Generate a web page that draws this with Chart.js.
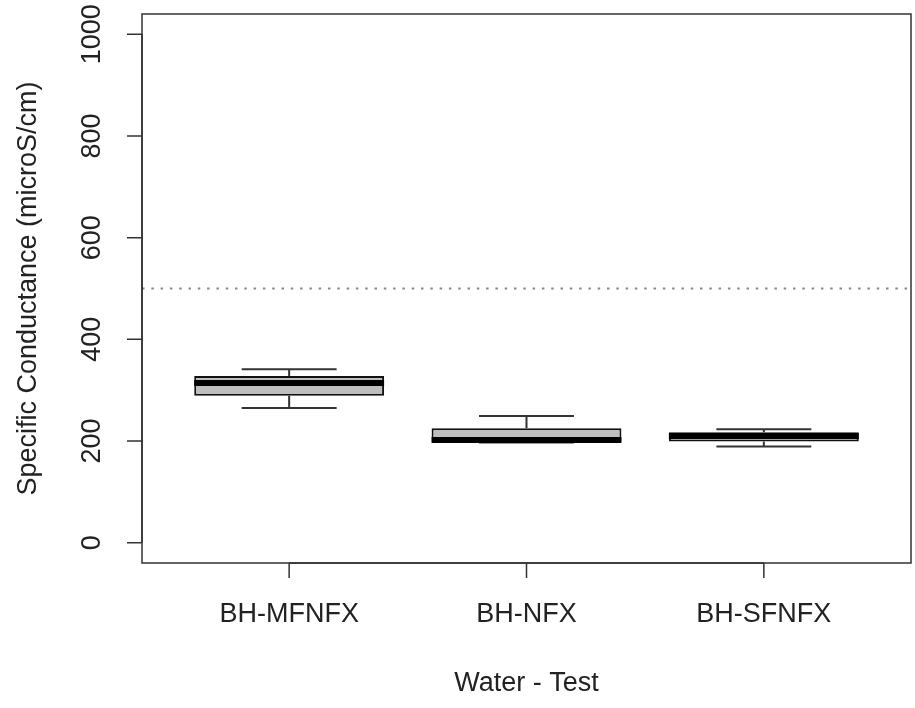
<!DOCTYPE html>
<html>
<head>
<meta charset="utf-8">
<script src="https://cdn.jsdelivr.net/npm/chart.js@4.4.1/dist/chart.umd.min.js"></script>
<style>
  html, body { margin: 0; padding: 0; background: #fff; }
  #wrap { width: 915px; height: 708px; }
</style>
</head>
<body>
<div id="wrap"><canvas id="boxdiv" width="915" height="708"></canvas></div>
<script>
// box plot values
const categories = ['BH-MFNFX', 'BH-NFX', 'BH-SFNFX'];
const whiskerLow = [265, 197, 189];
const q1 = [289, 199, 199];
const medians = [314, 202, 210];
const q3 = [328, 225, 217];
const whiskerHigh = [341, 249, 223];
const yTicks = [0, 200, 400, 600, 800, 1000];
const referenceLevel = 500;

const yTitle = 'Specific Conductance (microS/cm)';
const xTitle = 'Water - Test';
const FONT = '27px "Liberation Sans", Arial, sans-serif';

// whiskers, medians, axes and frame drawn R style on top of the floating bars
const boxPlotExtras = {
  id: 'boxPlotExtras',
  afterDatasetsDraw(chart) {
    const ctx = chart.ctx;
    const y = chart.scales.y;
    const meta = chart.getDatasetMeta(0);
    ctx.save();
    meta.data.forEach(function (bar, i) {
      const cx = bar.x;
      const half = bar.width / 2;
      const capHalf = bar.width / 4;
      // whiskers
      ctx.strokeStyle = '#333';
      ctx.lineWidth = 2;
      ctx.beginPath();
      ctx.moveTo(cx, y.getPixelForValue(q3[i]));
      ctx.lineTo(cx, y.getPixelForValue(whiskerHigh[i]));
      ctx.moveTo(cx - capHalf, y.getPixelForValue(whiskerHigh[i]));
      ctx.lineTo(cx + capHalf, y.getPixelForValue(whiskerHigh[i]));
      ctx.moveTo(cx, y.getPixelForValue(q1[i]));
      ctx.lineTo(cx, y.getPixelForValue(whiskerLow[i]));
      ctx.moveTo(cx - capHalf, y.getPixelForValue(whiskerLow[i]));
      ctx.lineTo(cx + capHalf, y.getPixelForValue(whiskerLow[i]));
      ctx.stroke();
      // median
      ctx.strokeStyle = '#000';
      ctx.lineWidth = 6;
      ctx.beginPath();
      ctx.moveTo(cx - half, y.getPixelForValue(medians[i]));
      ctx.lineTo(cx + half, y.getPixelForValue(medians[i]));
      ctx.stroke();
    });
    ctx.restore();
  },
  afterDraw(chart) {
    const ctx = chart.ctx;
    const area = chart.chartArea;
    const x = chart.scales.x;
    const y = chart.scales.y;
    ctx.save();

    // dotted reference line
    ctx.strokeStyle = '#888';
    ctx.lineWidth = 2;
    ctx.setLineDash([2.5, 6.8]);
    ctx.beginPath();
    const ry = y.getPixelForValue(referenceLevel);
    ctx.moveTo(area.left, ry);
    ctx.lineTo(area.right, ry);
    ctx.stroke();
    ctx.setLineDash([]);

    // frame
    ctx.strokeStyle = '#333';
    ctx.lineWidth = 1.5;
    ctx.strokeRect(area.left, area.top, area.right - area.left, area.bottom - area.top);

    // y axis ticks + rotated labels
    ctx.lineWidth = 1.5;
    ctx.beginPath();
    ctx.moveTo(area.left, y.getPixelForValue(yTicks[0]));
    ctx.lineTo(area.left, y.getPixelForValue(yTicks[yTicks.length - 1]));
    yTicks.forEach(function (t) {
      const py = y.getPixelForValue(t);
      ctx.moveTo(area.left - 15, py);
      ctx.lineTo(area.left, py);
    });
    ctx.stroke();

    ctx.fillStyle = '#222';
    ctx.font = FONT;
    ctx.textAlign = 'center';
    ctx.textBaseline = 'middle';
    yTicks.forEach(function (t) {
      ctx.save();
      ctx.translate(area.left - 49, y.getPixelForValue(t));
      ctx.rotate(-Math.PI / 2);
      ctx.fillText(String(t), 0, 0);
      ctx.restore();
    });

    // x axis line from first to last category, ticks and labels
    const first = x.getPixelForValue(1);
    const last = x.getPixelForValue(categories.length);
    ctx.beginPath();
    ctx.moveTo(first, area.bottom);
    ctx.lineTo(last, area.bottom);
    categories.forEach(function (c, i) {
      const px = x.getPixelForValue(i + 1);
      ctx.moveTo(px, area.bottom);
      ctx.lineTo(px, area.bottom + 15);
    });
    ctx.stroke();

    categories.forEach(function (c, i) {
      ctx.fillText(c, x.getPixelForValue(i + 1), area.bottom + 52);
    });

    // axis titles
    ctx.fillText(xTitle, (area.left + area.right) / 2, area.bottom + 121);
    ctx.save();
    ctx.translate(29, (area.top + area.bottom) / 2);
    ctx.rotate(-Math.PI / 2);
    ctx.fillText(yTitle, 0, 0);
    ctx.restore();

    ctx.restore();
  }
};

var ctx = document.getElementById('boxdiv');
var boxChart = new Chart(ctx, {
  type: 'bar',
  plugins: [boxPlotExtras],
  data: {
    datasets: [{
      label: 'IQR',
      data: categories.map(function (c, i) { return { x: i + 1, y: [q1[i], q3[i]] }; }),
      backgroundColor: '#bebebe',
      borderColor: '#111',
      borderWidth: 2,
      borderSkipped: false,
      barPercentage: 0.8,
      categoryPercentage: 1.0
    }]
  },
  options: {
    responsive: false,
    animation: false,
    layout: { padding: { left: 142, top: 14, right: 4, bottom: 145 } },
    plugins: { legend: { display: false }, tooltip: { enabled: false } },
    scales: {
      x: {
        type: 'linear',
        display: false,
        offset: false,
        min: 0.38,
        max: 3.62,
        afterBuildTicks: function (scale) {
          scale.ticks = categories.map(function (c, i) { return { value: i + 1 }; });
        }
      },
      y: {
        type: 'linear',
        display: false,
        min: -40,
        max: 1040
      }
    }
  }
});
</script>
</body>
</html>
